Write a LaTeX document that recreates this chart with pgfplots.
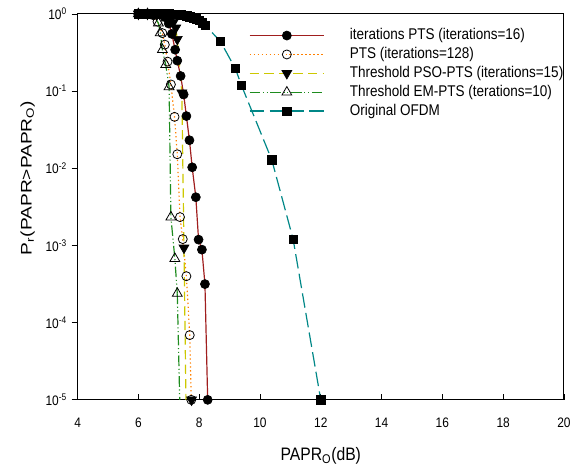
\documentclass[border=0pt]{standalone}
\usepackage{fontspec}
\setmainfont[FakeStretch=0.87]{Liberation Sans}
\newfontfamily\ylabfont[FakeStretch=1.25]{Liberation Sans}
\usepackage{pgfplots}
\pgfplotsset{compat=1.18}
\usetikzlibrary{calc}

\definecolor{cPTS}{RGB}{160,30,30}
\definecolor{cPTSb}{RGB}{255,128,0}
\definecolor{cPSO}{RGB}{205,200,0}
\definecolor{cEM}{RGB}{30,140,30}
\definecolor{cOFDM}{RGB}{0,135,135}

% PAPR (dB) vs CCDF
\pgfplotstableread{
x y
6.0 1
6.2 1
6.4 1
6.6 0.995
6.7 0.985
6.8 0.96
6.9 0.9
7.0 0.75
7.1 0.55
7.21 0.344
7.28 0.248
7.39 0.157
7.49 0.0904
7.58 0.0475
7.68 0.0231
7.77 0.0103
7.89 0.00422
7.98 0.00119
8.09 0.000883
8.19 0.000316
8.28 0.00001
}\itpts
\pgfplotstableread{
x y
6.0 1
6.2 1
6.4 0.99
6.5 0.96
6.63 0.796
6.79 0.564
6.87 0.40
6.96 0.241
7.07 0.122
7.19 0.0464
7.28 0.0152
7.37 0.00233
7.46 0.00121
7.58 0.0004
7.69 0.000069
7.74 0.00001
}\ptsb
\pgfplotstableread{
x y
6.0 1
6.3 1
6.6 0.99
6.9 0.93
7.05 0.85
7.15 0.78
7.23 0.66
7.28 0.47
7.43 0.095
7.50 0.00093
7.6 nan
7.75 0.00001
}\pso
\pgfplotstableread{
x y
7.50 0.00093
7.565 0.00001
}\psotail
\pgfplotstableread{
x y
6.0 1
6.3 1
6.5 0.95
6.66 0.76
6.72 0.569
6.79 0.344
6.90 0.22
7.01 0.1136
7.07 0.00233
7.20 0.000676
7.28 0.000239
}\em
\pgfplotstableread{
x y
7.28 0.000239
7.36 0.00001
}\emtail
\pgfplotstableread{
x y
6.0 1
6.1 1
6.2 1
6.3 1
6.4 1
6.5 1
6.6 1
6.7 1
6.8 1
6.9 1
7.0 1
7.1 0.995
7.2 0.99
7.3 0.985
7.4 0.975
7.5 0.96
7.6 0.945
7.7 0.92
7.8 0.89
7.9 0.86
8.0 0.82
8.1 0.77
8.2 0.71
8.7 0.44
9.19 0.196
9.39 0.119
10.39 0.0128
11.09 0.00121
12.0 0.00001
}\ofdm

\begin{document}
\begin{tikzpicture}
\begin{axis}[
  scale only axis,
  width=366.75pt, height=291pt,
  ymode=log,
  xmin=4, xmax=20, ymin=1e-5, ymax=1,
  unbounded coords=jump,
  xtick={4,6,...,20},
  ytick={1e-5,1e-4,1e-3,1e-2,1e-1,1},
  yticklabels={10\textsuperscript{-5},10\textsuperscript{-4},10\textsuperscript{-3},10\textsuperscript{-2},10\textsuperscript{-1},10\textsuperscript{0}},
  yminorticks=false,
  xtick pos=bottom, ytick pos=left,
  tick align=outside,
  major tick length=4.5pt,
  xtick style={yshift=4.5pt},
  tick style={black, line width=0.6pt},
  axis line style={line width=0.75pt},
  /pgf/number format/assume math mode=true,
  tick label style={font=\fontsize{10.35}{12}\selectfont},
  xticklabel style={yshift=-5.6pt},
  xlabel={PAPR\textsubscript{O}(dB)},
  ylabel={P\textsubscript{r}(PAPR>PAPR\textsubscript{O})},
  xlabel style={font=\fontsize{13.6}{15}\selectfont, at={([yshift=-46pt]rel axis cs:0.5,0)}, anchor=base},
  ylabel style={font=\ylabfont\fontsize{11.55}{14}\selectfont, at={([xshift=-34.7pt]rel axis cs:0,0.575)}, anchor=base},
  legend cell align=left,
  legend style={draw=none, fill=none, at={(rel axis cs:0.352,0.9644)}, anchor=north west,
    inner sep=0pt, row sep=2.75pt, font=\fontsize{11.7}{13}\selectfont,
    nodes={inner sep=0pt, text height=9pt, text depth=2.5pt},
    /tikz/every odd column/.append style={column sep=19pt}},
  legend image code/.code={\draw[mark repeat=2,mark phase=2,#1,line width=1pt] plot coordinates {(0pt,0pt) (28pt,0pt) (56pt,0pt)};},
]
\addplot[cPTS, line width=0.9pt, mark=*, mark size=3.4pt, mark options={solid, fill=black, draw=black, line width=0.5pt}] table {\itpts};
\addplot[cPTSb, line width=0.9pt, dash pattern=on 1pt off 2pt, mark=o, mark size=3.4pt, mark options={solid, fill=white, draw=black, line width=0.6pt}] table {\ptsb};
\addplot[cPSO, line width=0.9pt, dash pattern=on 7pt off 4pt, mark=triangle*, mark size=4.3pt, mark options={solid, rotate=180, fill=black, draw=black, line width=0.5pt}] table {\pso};
\addplot[cEM, line width=0.9pt, dash pattern=on 8pt off 2pt on 0.8pt off 2pt on 0.8pt off 2pt, mark=triangle, mark size=4.3pt, mark options={solid, fill=white, draw=black, line width=0.6pt}] table {\em};
\addplot[cOFDM, line width=0.9pt, dash pattern=on 11pt off 4pt, mark=square*, mark size=3.2pt, mark options={solid, fill=black, draw=black, line width=0.5pt}] table {\ofdm};
\addplot[forget plot, cPSO, line width=0.9pt, dash pattern=on 7pt off 4pt] table {\psotail};
\addplot[forget plot, cEM, line width=0.9pt, dash pattern=on 8pt off 2pt on 0.8pt off 2pt on 0.8pt off 2pt] table {\emtail};
\legend{iterations PTS (iterations=16), PTS (iterations=128), Threshold PSO-PTS (iterations=15), Threshold EM-PTS (terations=10), Original OFDM}
\end{axis}
\path[use as bounding box] ($(current axis.south west)+(-58.5pt,-51.75pt)$) rectangle ($(current axis.north east)+(6pt,10.5pt)$);
\end{tikzpicture}
\end{document}
